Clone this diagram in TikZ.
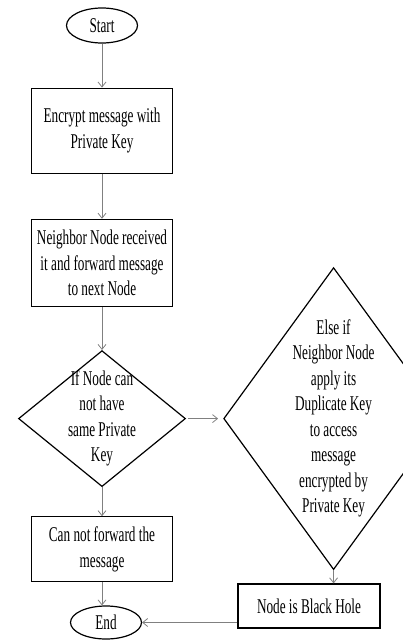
\documentclass[tikz,border=0pt]{standalone}
\usepackage{fontspec}
\setmainfont{Liberation Serif}[FakeStretch=0.63]
\usepackage{tikz}
\usetikzlibrary{positioning,shapes.geometric,arrows.meta}

\begin{document}
\begin{tikzpicture}[
    x=1pt,y=-1pt,
    font=\fontsize{21}{25.5}\selectfont,
    terminal/.style={
      ellipse,
      draw,
      line width=1.2pt,
      minimum width=71pt,
      minimum height=35pt,
      inner sep=0pt
    },
    process/.style={
      rectangle,
      draw,
      line width=1.2pt,
      minimum width=141pt,
      align=center,
      inner sep=2pt
    },
    decision/.style={
      diamond,
      draw,
      line width=1.2pt,
      align=center,
      inner sep=-15pt
    },
    flow/.style={
      ->,
      draw=gray,
      line width=0.8pt
    },
    >={Straight Barb[length=5pt,width=8pt]}
    ]
    \useasboundingbox (0,0) rectangle (402,640);

    \node[terminal] (start) at (102,25.5) {Start};
    \node[process,minimum height=85pt,below=44pt of start] (encrypt) {Encrypt message with\\Private Key};
    \node[process,minimum height=87pt,below=45pt of encrypt] (forward) {Neighbor Node received\\it and forward message\\to next Node};
    \node[decision,minimum width=167pt,minimum height=136pt,below=43pt of forward] (samekey) {If Node can\\not have\\same Private\\Key};
    \node[process,minimum height=65pt,below=29pt of samekey] (noforward) {Can not forward the\\message};
    \node[terminal,minimum height=33pt] (end) at (106,622.5) {End};

    \node[decision,minimum width=188pt,minimum height=302pt,right=37pt of samekey] (dupkey) {Else if\\Neighbor Node\\apply its\\Duplicate Key\\to access\\message\\encrypted by\\Private Key};
    \node[process,minimum width=142pt,minimum height=44pt] (blackhole) at (309,606) {Node is Black Hole};

    \path[flow] (start) -- (encrypt);
    \path[flow] (encrypt) -- (forward);
    \path[flow] (forward) -- (samekey);
    \path[flow] (samekey) -- (noforward);
    \path[flow] (noforward.south) -- (noforward.south |- end.north);
    \path[flow,shorten <=2pt,shorten >=5pt] (samekey.east) -- (dupkey.west);
    \path[flow] (dupkey.south) -- (dupkey.south |- blackhole.north);
    \path[flow] (blackhole.west |- end.east) -- (end.east);

    \end{tikzpicture}
\end{document}
